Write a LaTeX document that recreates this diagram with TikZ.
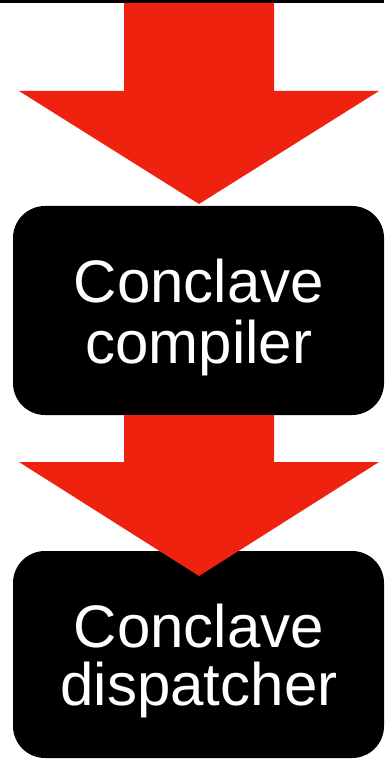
\documentclass[tikz,border=0pt]{standalone}
\usepackage{fontspec}
\setmainfont{Liberation Sans}
\definecolor{arrowred}{RGB}{238,34,14}
\begin{document}
\begin{tikzpicture}[x=1pt,y=-1pt,
  stagebox/.style={fill=black, rounded corners=32pt, minimum width=371pt, inner sep=0pt, outer sep=0pt},
  boxtext/.style={text=white, font=\fontsize{60}{62}\selectfont, inner sep=0pt, anchor=base},
  bigarrow/.style={fill=arrowred}]
\useasboundingbox (0,0) rectangle (384,759);
% top rule
\fill[black] (0,0) rectangle (384,3.5);
% first arrow
\fill[bigarrow] (124,3) -- (274,3) -- (274,91) -- (379,91) -- (199,204) -- (19,91) -- (124,91) -- cycle;
% boxes
\node[stagebox, minimum height=209pt] (compiler) at (198.5,310.5) {};
\node[boxtext] (compilerA) at (199,302) {Conclave};
\node[boxtext] (compilerB) at (199,363) {compiler};
\node[stagebox, minimum height=207pt] (dispatcher) at (198.5,654.5) {};
\node[boxtext] (dispatcherA) at (199,647) {Conclave};
\node[boxtext] (dispatcherB) at (199,705) {dispatcher};
% second arrow
\fill[bigarrow] (124,415) -- (274,415) -- (274,462) -- (379,462) -- (199,576) -- (19,462) -- (124,462) -- cycle;
\end{tikzpicture}
\end{document}
